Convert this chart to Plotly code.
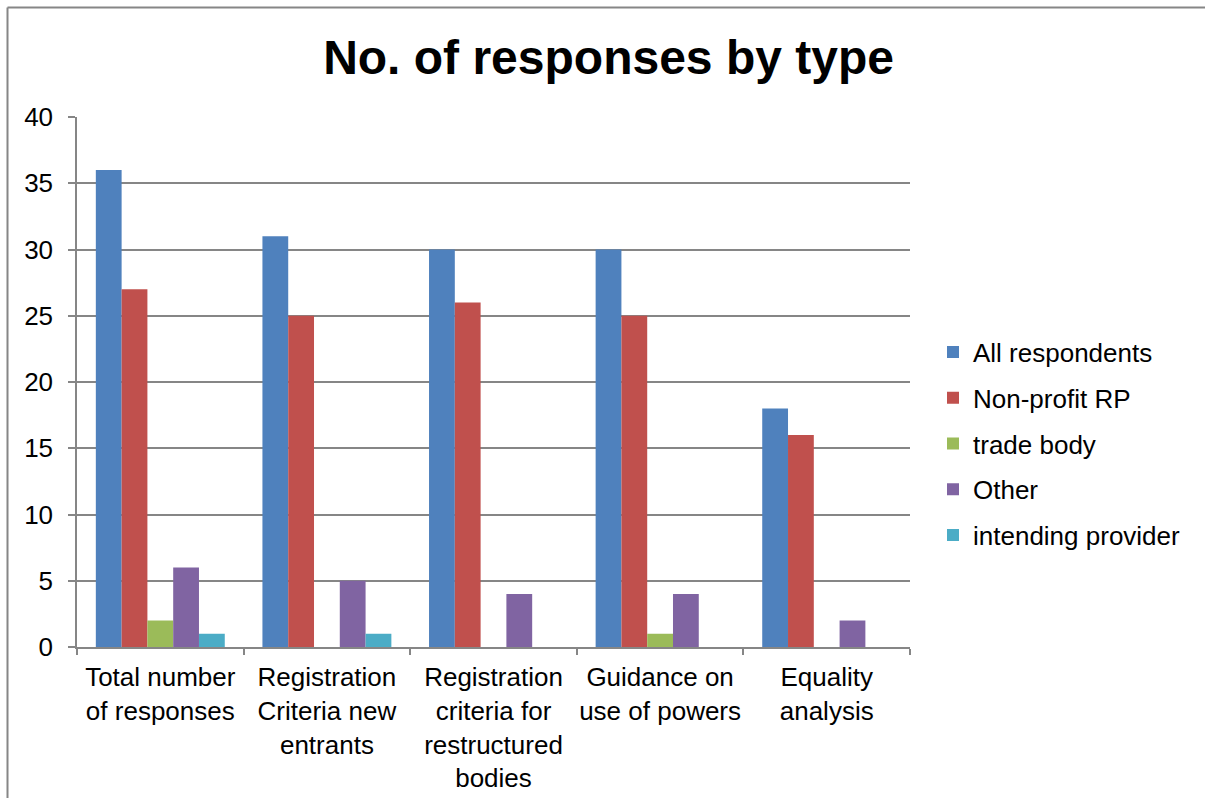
import plotly.graph_objects as go

categories = [
    "Total number<br>of responses",
    "Registration<br>Criteria new<br>entrants",
    "Registration<br>criteria for<br>restructured<br>bodies",
    "Guidance on<br>use of powers",
    "Equality<br>analysis",
]
all_respondents = [36, 31, 30, 30, 18]
non_profit_rp = [27, 25, 26, 25, 16]
trade_body = [2, 0, 0, 1, 0]
other = [6, 5, 4, 4, 2]
intending_provider = [1, 1, 0, 0, 0]

series = [
    ("All respondents", all_respondents, "#4F81BD"),
    ("Non-profit RP", non_profit_rp, "#C0504D"),
    ("trade body", trade_body, "#9BBB59"),
    ("Other", other, "#8064A2"),
    ("intending provider", intending_provider, "#4BACC6"),
]

FONT = "Liberation Sans, Arial, sans-serif"
GRID = "#868686"

fig = go.Figure()
for i, (name, vals, color) in enumerate(series):
    fig.add_trace(go.Bar(
        x=categories, y=vals, name=name,
        marker=dict(color=color, line=dict(width=0)),
        legendgroup=f"g{i}",
    ))

W, H = 1205, 798
L, R, T, B = 77, 295, 117, 151
pw, ph = W - L - R, H - T - B

def px_x(p):
    return (p - L) / pw

def px_y(p):
    return (H - B - p) / ph

fig.update_layout(
    width=W, height=H,
    margin=dict(l=L, r=R, t=T, b=B, autoexpand=False),
    paper_bgcolor="white", plot_bgcolor="white",
    barmode="group", bargap=0.226, bargroupgap=0,
    font=dict(family=FONT, size=26, color="black"),
    title=dict(
        text="<b>No. of responses by type</b>",
        font=dict(family=FONT, size=48, color="black"),
        x=0.505, xanchor="center", y=1 - 57 / H, yanchor="middle",
    ),
    legend=dict(
        x=px_x(933), xanchor="left", y=px_y(444), yanchor="middle",
        font=dict(family=FONT, size=26, color="black"),
        tracegroupgap=9, itemwidth=30,
        bgcolor="rgba(0,0,0,0)",
    ),
    xaxis=dict(
        showline=True, linecolor=GRID, linewidth=1.5,
        ticks="outside", tickson="boundaries", ticklen=6, tickcolor=GRID,
        tickwidth=1.5, tickangle=0, automargin=False,
        tickfont=dict(family=FONT, size=26, color="black"),
        ticklabelstandoff=6,
        showgrid=False,
    ),
    yaxis=dict(
        range=[0, 40], dtick=5, tick0=0,
        showline=True, linecolor=GRID, linewidth=1.5,
        ticks="outside", ticklen=7, tickcolor=GRID, tickwidth=1.5,
        showgrid=True, gridcolor=GRID, gridwidth=1.5,
        zeroline=False, automargin=False,
        ticklabelstandoff=10,
        tickfont=dict(family=FONT, size=26, color="black"),
    ),
    shapes=[
        dict(type="line", xref="paper", yref="paper",
             x0=px_x(7.5), x1=px_x(1210), y0=px_y(7.5), y1=px_y(7.5),
             line=dict(color=GRID, width=2)),
        dict(type="line", xref="paper", yref="paper",
             x0=px_x(7.5), x1=px_x(7.5), y0=px_y(7.5), y1=px_y(805),
             line=dict(color=GRID, width=2)),
    ],
)

fig.write_html("out.html")
